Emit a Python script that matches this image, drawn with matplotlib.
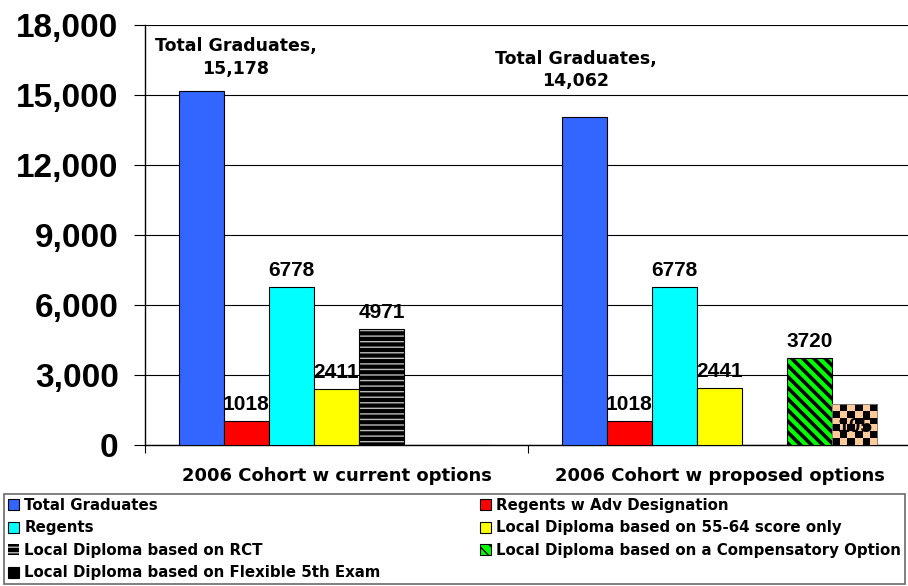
import numpy as np
import matplotlib
matplotlib.use("Agg")
import matplotlib.pyplot as plt
from matplotlib.ticker import FuncFormatter

plt.rcParams["font.family"] = ["Liberation Sans", "DejaVu Sans"]
plt.rcParams["font.weight"] = "bold"
WIDE = ["DejaVu Sans"]

# --- data ---
categories = ["2006 Cohort w current options", "2006 Cohort w proposed options"]
series = ["Total Graduates", "Regents w Adv Designation", "Regents",
          "Local Diploma based on 55-64 score only", "Local Diploma based on RCT",
          "Local Diploma based on a Compensatory Option",
          "Local Diploma based on Flexible 5th Exam"]
total_grads = [15178, 14062]
regents_adv = [1018, 1018]
regents = [6778, 6778]
local_55_64 = [2411, 2441]
local_rct = [4971, 0]
local_comp = [0, 3720]
local_flex = [0, 105]
values = [total_grads, regents_adv, regents, local_55_64, local_rct, local_comp, local_flex]

# checkered box the author drew over the Flexible 5th Exam bar
flex_box_height = 1750

colors = ["#3366FF", "#FF0000", "#00FFFF", "#FFFF00", "#000000", "#00FF00", "#000000"]

fig = plt.figure(figsize=(9.08, 5.86), dpi=100)
ax = fig.add_axes([145 / 908, 141 / 586, 766 / 908, 420 / 586])

x = np.arange(len(categories))
n = len(series)
w = 1 / (n + 1.5)

bars = []
for i, (name, vals, c) in enumerate(zip(series, values, colors)):
    xs = x + (i - (n - 1) / 2) * w
    if name == "Local Diploma based on RCT":
        with plt.rc_context({"hatch.linewidth": 1.0}):
            b = ax.bar(xs, vals, w, color="black", edgecolor="#BBBBBB", hatch="---",
                       linewidth=0, label=name, zorder=3)
        ax.bar(xs, vals, w, fill=False, edgecolor="black", linewidth=0.8, zorder=4)
    elif name == "Local Diploma based on a Compensatory Option":
        with plt.rc_context({"hatch.linewidth": 2.6}):
            b = ax.bar(xs, vals, w, color=c, edgecolor="black", hatch="\\\\\\",
                       linewidth=0.8, label=name, zorder=3)
    else:
        b = ax.bar(xs, vals, w, color=c, edgecolor="black", linewidth=0.8,
                   label=name, zorder=3)
    bars.append(b)
    if i == 0:
        continue
    labels = [str(v) if v else "" for v in vals]
    ax.bar_label(b, labels=labels, padding=5, fontsize=15, fontweight="bold", zorder=6)

# checker overlay on the last bar of the second group
rect = bars[-1].patches[1]
bx0 = rect.get_x()
checker = np.indices((6, 6)).sum(axis=0) % 2
rgb = np.where(checker[..., None] == 1, np.array([0, 0, 0]), np.array([1.0, 0.8, 0.6]))
ax.imshow(rgb, extent=[bx0, bx0 + w, 0, flex_box_height], aspect="auto",
          interpolation="nearest", zorder=5)
ax.plot([bx0, bx0 + w, bx0 + w, bx0, bx0], [0, 0, flex_box_height, flex_box_height, 0],
        color="#777777", lw=0.6, zorder=5)

# total graduates labels
tot = bars[0].patches
ax.annotate("Total Graduates,\n" + f"{total_grads[0]:,}", (tot[0].get_x() + w / 2, total_grads[0]),
            xytext=(25, 9), textcoords="offset points", ha="center", va="bottom",
            fontsize=12.5, fontweight="bold", family=WIDE, linespacing=1.35)
ax.annotate("Total Graduates,\n" + f"{total_grads[1]:,}", (tot[1].get_x() + w / 2, total_grads[1]),
            xytext=(-6, 19), textcoords="offset points", ha="center", va="bottom",
            fontsize=12.5, fontweight="bold", family=WIDE, linespacing=1.35)

ax.set_xlim(-0.5, 1.5)
ax.set_ylim(0, 18000)
ax.set_yticks(np.arange(0, 18001, 3000))
ax.yaxis.set_major_formatter(FuncFormatter(lambda v, p: f"{int(v):,}"))
ax.tick_params(axis="y", labelsize=24, length=8, width=0.8, pad=11)
ax.grid(axis="y", color="black", linewidth=0.8, zorder=0)

ax.set_xticks([-0.5, 0.5, 1.5])
ax.set_xticklabels([])
ax.set_xticks(x, minor=True)
ax.set_xticklabels(categories, minor=True, fontsize=13, fontweight="bold", family=WIDE)
ax.tick_params(axis="x", which="major", length=6, width=0.8)
ax.tick_params(axis="x", which="minor", length=0, pad=16)

for s in ["top", "right"]:
    ax.spines[s].set_visible(False)
ax.spines["left"].set_linewidth(1.0)
ax.spines["bottom"].set_linewidth(1.0)

order = [0, 2, 4, 6, 1, 3, 5]
handles = [bars[i] for i in order]
labs = [series[i] for i in order]
leg = fig.legend(handles, labs, ncol=2, loc="lower left",
                 bbox_to_anchor=(4 / 908, 2 / 586, 901 / 908, 89 / 586), mode="expand",
                 prop={"family": WIDE, "weight": "bold", "size": 10.8},
                 frameon=True, fancybox=False, edgecolor="#444444",
                 handlelength=0.75, handleheight=0.75, handletextpad=0.35,
                 labelspacing=0.5, borderpad=0.25, borderaxespad=0)
leg.get_frame().set_linewidth(1.2)

fig.savefig("out.png", dpi=100)
